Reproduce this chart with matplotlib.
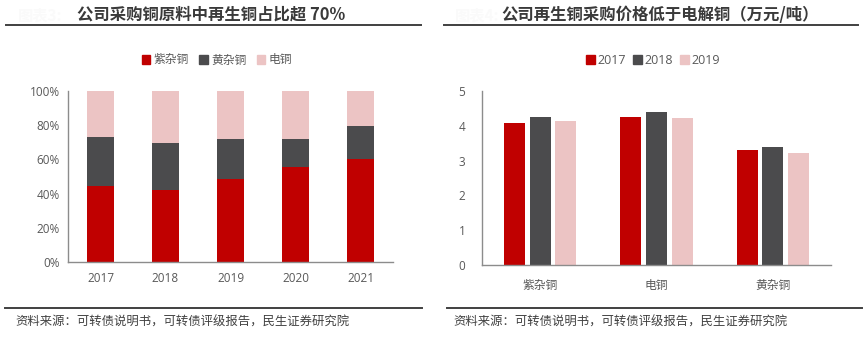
import matplotlib
matplotlib.use("Agg")
from matplotlib import pyplot as plt
from matplotlib.lines import Line2D
from matplotlib.patches import Patch
import numpy as np

plt.rcParams['font.family'] = ['Open Sans', 'Noto Sans CJK SC', 'DejaVu Sans']

# left chart: share of purchased copper raw material
years = ['2017', '2018', '2019', '2020', '2021']
purple_scrap = [44.3, 42.2, 48.6, 55.7, 60.3]
yellow_scrap = [28.7, 27.2, 23.1, 16.0, 19.2]
cathode = [27.0, 30.6, 28.3, 28.3, 20.5]

# right chart: purchase price (10k yuan / ton)
kinds = ['紫杂铜', '电铜', '黄杂铜']
price_2017 = [4.07, 4.25, 3.31]
price_2018 = [4.25, 4.39, 3.39]
price_2019 = [4.15, 4.22, 3.23]

RED = '#C00000'
DARK = '#4B4B4D'
PINK = '#ECC4C4'
TICK = '#595959'
W, H = 866, 339
CJK = ['Noto Sans CJK SC', 'DejaVu Sans']

fig = plt.figure(figsize=(W / 100, H / 100), dpi=100)


def px_axes(x0, y_top, x1, y_bottom):
    return fig.add_axes([x0 / W, 1 - y_bottom / H, (x1 - x0) / W, (y_bottom - y_top) / H])


def style_axes(ax):
    for s in ['top', 'right']:
        ax.spines[s].set_visible(False)
    for s in ['left', 'bottom']:
        ax.spines[s].set_color('#8C8C8C')
        ax.spines[s].set_linewidth(1.0)
    ax.tick_params(length=0, colors=TICK, labelsize=8.5, pad=6)


def hline(x0, x1, y):
    fig.add_artist(Line2D([x0 / W, x1 / W], [1 - y / H, 1 - y / H], transform=fig.transFigure,
                          color='#404040', lw=1.4))


# ---- left panel
ax1 = px_axes(68, 91, 393, 262)
x = np.arange(len(years))
bw = 0.43
ax1.bar(x, purple_scrap, bw, color=RED, label='紫杂铜')
ax1.bar(x, yellow_scrap, bw, bottom=purple_scrap, color=DARK, label='黄杂铜')
bottom2 = np.array(purple_scrap) + np.array(yellow_scrap)
ax1.bar(x, cathode, bw, bottom=bottom2, color=PINK, label='电铜')
ax1.set_xlim(-0.5, 4.5)
ax1.set_ylim(0, 100)
ax1.set_yticks(np.arange(0, 101, 20))
ax1.set_yticklabels([f'{v}%' for v in range(0, 101, 20)])
ax1.set_xticks(x)
ax1.set_xticklabels(years)
style_axes(ax1)
ax1.tick_params(axis='x', pad=7)

handles1 = [Patch(color=RED, label='紫杂铜'), Patch(color=DARK, label='黄杂铜'), Patch(color=PINK, label='电铜')]
leg1 = fig.legend(handles=handles1, loc='center', bbox_to_anchor=(217 / W, 1 - 60 / H), ncol=3, frameon=False,
                  fontsize=8.5, handlelength=0.7, handleheight=0.7, handletextpad=0.3, columnspacing=0.9,
                  labelcolor=TICK, prop={'family': CJK, 'size': 8.5})

# ---- right panel
ax2 = px_axes(482, 91, 831, 265)
x2 = np.arange(len(kinds))
bw2 = 0.18
off = 0.22
ax2.bar(x2 - off, price_2017, bw2, color=RED, label='2017')
ax2.bar(x2, price_2018, bw2, color=DARK, label='2018')
ax2.bar(x2 + off, price_2019, bw2, color=PINK, label='2019')
ax2.set_xlim(-0.5, 2.5)
ax2.set_ylim(0, 5)
ax2.set_yticks(range(0, 6))
ax2.set_xticks(x2)
ax2.set_xticklabels(kinds, family=CJK)
style_axes(ax2)
ax2.tick_params(axis='y', pad=12)
ax2.tick_params(axis='x', pad=10)

handles2 = [Patch(color=RED, label='2017'), Patch(color=DARK, label='2018'), Patch(color=PINK, label='2019')]
fig.legend(handles=handles2, loc='center', bbox_to_anchor=(653 / W, 1 - 60 / H), ncol=3, frameon=False,
           fontsize=9, handlelength=0.7, handleheight=0.7, handletextpad=0.2, columnspacing=0.6,
           labelcolor=TICK)

# ---- titles, rules, footers
fig.text(18 / W, 1 - 15 / H, '图表3:', fontsize=11, color='#FAFAFA', va='center', weight='bold', family=CJK)
fig.text(211 / W, 1 - 15 / H, '公司采购铜原料中再生铜占比超 70%', fontsize=11.8, weight='bold',
         color='#3A3A3A', ha='center', va='center', family=CJK)
fig.text(455 / W, 1 - 15 / H, '图表4:', fontsize=11, color='#FAFAFA', va='center', weight='bold', family=CJK)
fig.text(660 / W, 1 - 15 / H, '公司再生铜采购价格低于电解铜（万元/吨）', fontsize=11.8, weight='bold',
         color='#3A3A3A', ha='center', va='center', family=CJK)

hline(6, 421, 25)
hline(444, 858, 25)
hline(5, 422, 308)
hline(447, 862, 308)

src = '资料来源：可转债说明书，可转债评级报告，民生证券研究院'
fig.text(15 / W, 1 - 322 / H, src, fontsize=8.9, color='#404040', va='center', family=CJK)
fig.text(453 / W, 1 - 322 / H, src, fontsize=8.9, color='#404040', va='center', family=CJK)

plt.savefig('out.png', dpi=100)
